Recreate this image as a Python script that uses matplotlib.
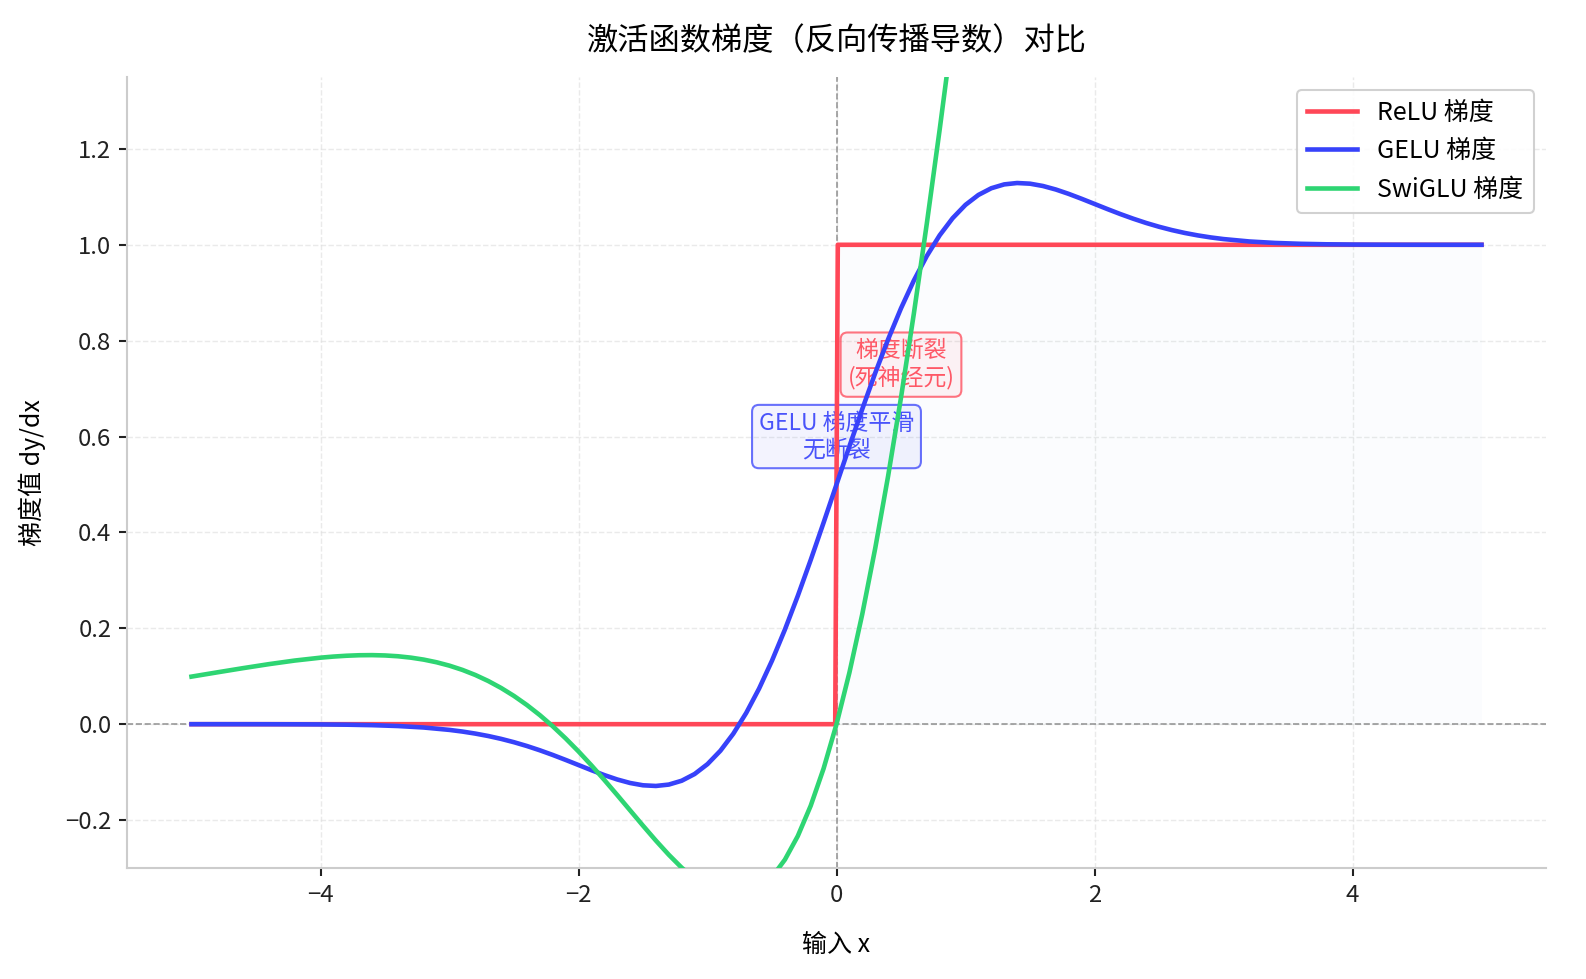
import matplotlib
matplotlib.use("Agg")
import matplotlib.pyplot as plt
from matplotlib.colors import to_rgba

plt.rcParams['font.family'] = ['Noto Sans CJK SC', 'DejaVu Sans']
plt.rcParams['axes.unicode_minus'] = True

# ---------------- data ----------------
title = "激活函数梯度（反向传播导数）对比"
xlabel = "输入 x"
ylabel = "梯度值 dy/dx"
series_names = ["ReLU 梯度", "GELU 梯度", "SwiGLU 梯度"]

relu_x = [-5.0, -0.01, 0.01, 5.0]
relu_y = [0.0, 0.0, 1.0, 1.0]

gelu_x = [-5.0, -4.8, -4.6, -4.4, -4.2, -4.0, -3.8, -3.6, -3.4, -3.2, -3.0,
          -2.9, -2.8, -2.7, -2.6, -2.5, -2.4, -2.3, -2.2, -2.1, -2.0,
          -1.9, -1.8, -1.7, -1.6, -1.5, -1.4, -1.3, -1.2, -1.1, -1.0,
          -0.9, -0.8, -0.7, -0.6, -0.5, -0.4, -0.3, -0.2, -0.1, 0.0,
          0.1, 0.2, 0.3, 0.4, 0.5, 0.6, 0.7, 0.8, 0.9, 1.0,
          1.1, 1.2, 1.3, 1.4, 1.5, 1.6, 1.7, 1.8, 1.9, 2.0,
          2.1, 2.2, 2.3, 2.4, 2.5, 2.6, 2.7, 2.8, 2.9, 3.0,
          3.2, 3.4, 3.6, 3.8, 4.0, 4.2, 4.4, 4.6, 4.8, 5.0]
gelu_y = [-0.00001, -0.00002, -0.00004, -0.00010, -0.00024, -0.00049,
          -0.00103, -0.00204, -0.00384, -0.00693, -0.01194,
          -0.01539, -0.01962, -0.02466, -0.03065, -0.03762, -0.04554,
          -0.05444, -0.06413, -0.07450, -0.08523,
          -0.09596, -0.10618, -0.11532, -0.12267, -0.12747, -0.12886,
          -0.12598, -0.11796, -0.10397, -0.08331,
          -0.05542, -0.01989, 0.02338, 0.07432, 0.13251, 0.19727,
          0.26767, 0.34253, 0.42047, 0.5,
          0.57953, 0.65747, 0.73233, 0.80273, 0.86749, 0.92568, 0.97662,
          1.01989, 1.05542, 1.08331,
          1.10397, 1.11796, 1.12598, 1.12886, 1.12747, 1.12267, 1.11532,
          1.10618, 1.09596, 1.08523,
          1.07450, 1.06413, 1.05444, 1.04554, 1.03762, 1.03065, 1.02466,
          1.01962, 1.01539, 1.01194,
          1.00693, 1.00384, 1.00204, 1.00103, 1.00049, 1.00024, 1.00010,
          1.00004, 1.00002, 1.00001]

swiglu_x = [-5.0, -4.8, -4.6, -4.4, -4.2, -4.0, -3.9, -3.8, -3.7, -3.6,
            -3.5, -3.4, -3.3, -3.2, -3.1, -3.0, -2.9, -2.8, -2.7, -2.6,
            -2.5, -2.4, -2.3, -2.2, -2.1, -2.0, -1.9, -1.8, -1.7, -1.6,
            -1.5, -1.4, -1.3, -1.2, -1.1, -1.0, -0.9, -0.8, -0.7, -0.6,
            -0.5, -0.4, -0.3, -0.2, -0.1, 0.0, 0.1, 0.2, 0.3, 0.4, 0.5,
            0.6, 0.7, 0.8, 0.9, 1.0]
swiglu_y = [0.09923, 0.10814, 0.11691, 0.12524, 0.13272, 0.13874, 0.14103,
            0.14274, 0.14380, 0.14405, 0.14336, 0.14169, 0.13882, 0.13470,
            0.12914, 0.12204, 0.11325, 0.10265, 0.09011, 0.07554, 0.05886,
            0.04000, 0.01895, -0.00427, -0.02958, -0.05684, -0.08583,
            -0.11626, -0.14774, -0.17975, -0.21171, -0.24287, -0.27241,
            -0.29939, -0.32271, -0.34127, -0.35384, -0.35914, -0.35590,
            -0.34284, -0.31879, -0.28260, -0.23334, -0.17016, -0.09251,
            0.0, 0.10749, 0.22984, 0.36666, 0.51740, 0.68121, 0.85716,
            1.04410, 1.24086, 1.44618, 1.65873]

annot_red_text = "梯度断裂\n(死神经元)"
annot_red_pos = (0.5, 0.75)
annot_blue_text = "GELU 梯度平滑\n无断裂"
annot_blue_pos = (0.0, 0.6)

xticks = [-4, -2, 0, 2, 4]
yticks = [-0.2, 0.0, 0.2, 0.4, 0.6, 0.8, 1.0, 1.2]

c_relu = '#ff4757'
c_gelu = '#3742fa'
c_swiglu = '#2ed573'

# ---------------- figure ----------------
W, H, DPI = 1586, 979, 150
fig = plt.figure(figsize=(W / DPI, H / DPI), dpi=DPI)
ax = fig.add_axes([127 / W, 1 - 868 / H, (1546 - 127) / W, (868 - 77) / H])

ax.fill_between(relu_x, 0, relu_y, color='#3498db', alpha=0.02, lw=0, zorder=1)

ax.plot(relu_x, relu_y, color=c_relu, lw=2.2, label=series_names[0], zorder=3)
ax.plot(gelu_x, gelu_y, color=c_gelu, lw=2.2, label=series_names[1], zorder=3)
ax.plot(swiglu_x, swiglu_y, color=c_swiglu, lw=2.2, label=series_names[2], zorder=3)

ax.axhline(0, color='gray', ls='--', lw=0.8, alpha=0.8, zorder=2)
ax.axvline(0, color='gray', ls='--', lw=0.8, alpha=0.8, zorder=2)

ax.set_xlim(-5.5, 5.5)
ax.set_ylim(-0.3, 1.35)
ax.set_xticks(xticks)
ax.set_yticks(yticks)
ax.tick_params(labelsize=11.5, length=4, width=1, colors='#222222')

ax.grid(True, ls='--', color='#dddddd', alpha=0.6, lw=0.7)
ax.set_axisbelow(True)
for s in ['top', 'right']:
    ax.spines[s].set_visible(False)
for s in ['left', 'bottom']:
    ax.spines[s].set_color('#cccccc')
    ax.spines[s].set_linewidth(1.0)

ax.set_title(title, fontsize=15, pad=13)
ax.set_xlabel(xlabel, fontsize=12, labelpad=12)
ax.set_ylabel(ylabel, fontsize=12, labelpad=9)

ax.text(annot_red_pos[0], annot_red_pos[1], annot_red_text, fontsize=11,
        color=to_rgba(c_relu, 0.9), ha='center', va='center', zorder=2.5,
        bbox=dict(boxstyle='round,pad=0.3', facecolor=to_rgba(c_relu, 0.06),
                  edgecolor=to_rgba(c_relu, 0.75), linewidth=1.0))
ax.text(annot_blue_pos[0], annot_blue_pos[1], annot_blue_text, fontsize=11,
        color=to_rgba(c_gelu, 0.9), ha='center', va='center', zorder=2.5,
        bbox=dict(boxstyle='round,pad=0.3', facecolor=to_rgba(c_gelu, 0.06),
                  edgecolor=to_rgba(c_gelu, 0.75), linewidth=1.0))

leg = ax.legend(loc='upper right', fontsize=12, frameon=True, fancybox=True,
                framealpha=0.9, edgecolor='#cccccc')

fig.savefig("out.png", dpi=DPI)
